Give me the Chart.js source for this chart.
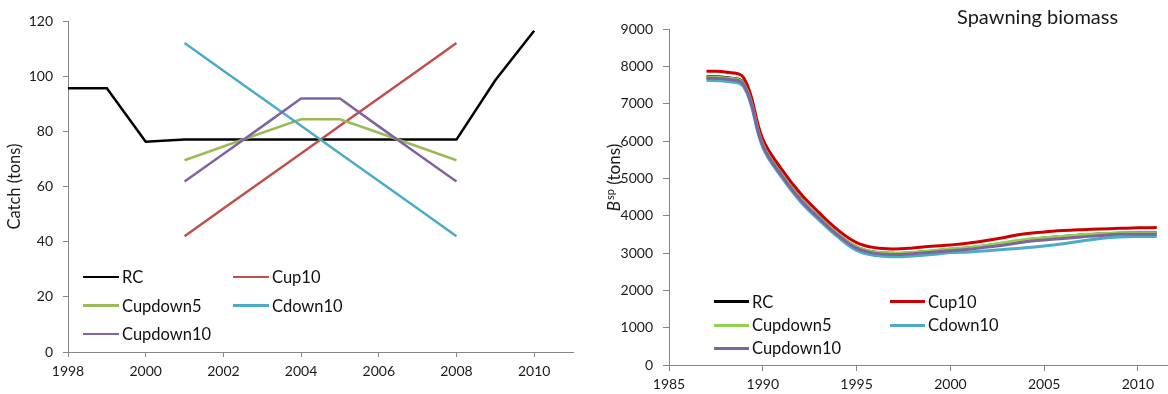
<!DOCTYPE html>
<html>
<head>
<meta charset="utf-8">
<script src="https://cdn.jsdelivr.net/npm/chart.js@4.4.1/dist/chart.umd.min.js"></script>
<style>
    body { margin: 0; background: #fff; font-family: Lato, "Open Sans", sans-serif; }
    #wrap { position: relative; width: 1168px; height: 394px; overflow: hidden; background: #fff; }
    .panel { position: absolute; top: 0; height: 394px; }
    .legend-item { position: absolute; display: flex; align-items: center; height: 20px;
                   font-size: 16.5px; color: #111; white-space: nowrap; }
    .legend-item .swatch { display: inline-block; margin-right: 3px; }
</style>
</head>
<body>
<div id="wrap">
    <div class="panel" id="panel-catch" style="left:0;width:590px">
        <canvas id="catchChart" width="590" height="394"></canvas>
    </div>
    <div class="panel" id="panel-biomass" style="left:590px;width:578px">
        <canvas id="biomassChart" width="578" height="394"></canvas>
    </div>
</div>
<script>
// Scenario names, in legend order
const seriesNames = ['RC', 'Cup10', 'Cupdown5', 'Cdown10', 'Cupdown10'];

// Catch (tons) per year for each scenario
const catchYears = [1998, 1999, 2000, 2001, 2002, 2003, 2004, 2005, 2006, 2007, 2008, 2009, 2010];
const catchRC        = [95.6, 95.6, 76.2, 77, 77, 77, 77, 77, 77, 77, 77, 98.5, 116.5];
const catchCup10     = [null, null, null, 42, 52, 62, 72, 82, 92, 102, 112, null, null];
const catchCupdown5  = [null, null, null, 69.5, 74.5, 79.5, 84.4, 84.4, 79.5, 74.5, 69.5, null, null];
const catchCdown10   = [null, null, null, 112, 102, 92, 82, 72, 62, 52, 42, null, null];
const catchCupdown10 = [null, null, null, 61.8, 71.8, 81.8, 91.9, 91.9, 81.8, 71.8, 61.8, null, null];

// Spawning biomass (tons) per year for each scenario
const bioYears = [1987, 1988, 1989, 1990, 1991, 1992, 1993, 1994, 1995, 1996, 1997, 1998, 1999,
                  2000, 2001, 2002, 2003, 2004, 2005, 2006, 2007, 2008, 2009, 2010, 2011];
const bioRC        = [7720, 7700, 7540, 5920, 5120, 4470, 3960, 3510, 3160, 3020, 2990, 3010, 3050,
                      3100, 3140, 3200, 3270, 3350, 3400, 3440, 3480, 3510, 3530, 3540, 3540];
const bioCup10     = [7870, 7850, 7680, 6050, 5250, 4600, 4080, 3620, 3280, 3140, 3110, 3135, 3180,
                      3215, 3265, 3340, 3430, 3515, 3565, 3600, 3625, 3645, 3660, 3675, 3680];
const bioCupdown5  = [7710, 7690, 7530, 5910, 5110, 4460, 3960, 3510, 3165, 3025, 2995, 3020, 3060,
                      3110, 3150, 3210, 3290, 3365, 3410, 3450, 3490, 3515, 3535, 3540, 3540];
const bioCdown10   = [7620, 7600, 7440, 5830, 5030, 4380, 3880, 3430, 3070, 2930, 2900, 2920, 2960,
                      3010, 3030, 3060, 3100, 3140, 3190, 3250, 3320, 3390, 3430, 3440, 3440];
const bioCupdown10 = [7680, 7660, 7500, 5880, 5080, 4430, 3930, 3480, 3130, 2990, 2960, 2980, 3020,
                      3060, 3100, 3160, 3220, 3300, 3350, 3390, 3430, 3470, 3500, 3505, 3505];

const catchColors = ['#000000', '#C0504D', '#9BBB59', '#4BACC6', '#8064A2'];
const bioColors   = ['#000000', '#CC0000', '#92D050', '#4BACC6', '#8064A2'];

const AXIS_COLOR = '#868686';
const TEXT_COLOR = '#1a1a1a';
const FONT = 'Lato';

function toPoints(years, values) {
    return years.map((yr, i) => ({ x: yr, y: values[i] })).filter(p => p.y !== null);
}

function buildDatasets(years, seriesList, colors, width, tension) {
    return seriesList.map((values, i) => ({
        label: seriesNames[i],
        data: toPoints(years, values),
        borderColor: colors[i],
        backgroundColor: colors[i],
        borderWidth: width,
        pointRadius: 0,
        tension: tension,
        fill: false,
        // later scenarios drawn on top
        order: seriesList.length - i
    }));
}

function axis(min, max, step, opts) {
    return {
        type: 'linear',
        min: min,
        max: max,
        border: { display: true, color: AXIS_COLOR, width: 1 },
        grid: { drawOnChartArea: false, drawTicks: true, tickLength: opts.tickLength, color: AXIS_COLOR },
        ticks: {
            stepSize: step,
            includeBounds: false,
            padding: opts.padding,
            color: TEXT_COLOR,
            font: { family: FONT, size: 14 },
            maxRotation: 0,
            autoSkip: false,
            callback: (value) => String(value)
        },
        title: opts.title || { display: false },
        afterFit: opts.afterFit
    };
}

// Legend laid out as a two-column grid over the plot
function buildLegend(panel, colors, width, origin) {
    seriesNames.forEach((name, i) => {
        const col = i % 2, row = Math.floor(i / 2);
        const item = document.createElement('div');
        item.className = 'legend-item';
        item.style.left = (origin.x + col * origin.colGap) + 'px';
        item.style.top = (origin.y + row * origin.rowGap - 10) + 'px';
        const sw = document.createElement('span');
        sw.className = 'swatch';
        sw.style.width = origin.swatch + 'px';
        sw.style.height = width + 'px';
        sw.style.background = colors[i];
        item.appendChild(sw);
        item.appendChild(document.createTextNode(name));
        panel.appendChild(item);
    });
}

// Catch chart
new Chart(document.getElementById('catchChart'), {
    type: 'line',
    data: {
        datasets: buildDatasets(catchYears,
            [catchRC, catchCup10, catchCupdown5, catchCdown10, catchCupdown10], catchColors, 2.5, 0)
    },
    options: {
        responsive: false,
        animation: false,
        layout: { padding: { top: 21, right: 17, left: 0, bottom: 0 } },
        plugins: { legend: { display: false }, tooltip: { enabled: false } },
        scales: {
            x: axis(1998, 2011, 2, {
                tickLength: 5, padding: 6,
                afterFit: (s) => { s.height = 42; }
            }),
            y: axis(0, 120, 20, {
                tickLength: 5, padding: 10,
                title: { display: true, text: 'Catch (tons)', color: TEXT_COLOR,
                         font: { family: FONT, size: 16.5 }, padding: { top: 5, bottom: 0 } },
                afterFit: (s) => { s.width = 68; }
            })
        }
    }
});
buildLegend(document.getElementById('panel-catch'), catchColors, 2.5,
    { x: 83, y: 277, colGap: 150, rowGap: 28.5, swatch: 36 });

// Title and the B^sp axis label need mixed styling, so draw them by hand
const biomassTitles = {
    id: 'biomassTitles',
    afterDraw(chart) {
        const ctx = chart.ctx;
        ctx.save();
        ctx.fillStyle = TEXT_COLOR;
        ctx.textBaseline = 'middle';
        ctx.textAlign = 'left';
        ctx.font = '20px ' + FONT;
        ctx.fillText('Spawning biomass', 367, 18);

        ctx.translate(25, 178);
        ctx.rotate(-Math.PI / 2);
        const fB = 'italic 17px ' + FONT, fSup = '11px ' + FONT, fRest = '17px ' + FONT;
        ctx.font = fB;    const wB = ctx.measureText('B').width;
        ctx.font = fSup;  const wS = ctx.measureText('sp').width;
        ctx.font = fRest; const wR = ctx.measureText(' (tons)').width;
        let x = -(wB + wS + wR) / 2;
        ctx.font = fB;    ctx.fillText('B', x, 0); x += wB + 1;
        ctx.font = fSup;  ctx.fillText('sp', x, -5); x += wS;
        ctx.font = fRest; ctx.fillText(' (tons)', x, 0);
        ctx.restore();
    }
};

// Spawning biomass chart
new Chart(document.getElementById('biomassChart'), {
    type: 'line',
    data: {
        datasets: buildDatasets(bioYears,
            [bioRC, bioCup10, bioCupdown5, bioCdown10, bioCupdown10], bioColors, 3, 0.4)
    },
    options: {
        responsive: false,
        animation: false,
        layout: { padding: { top: 29, right: 0, left: 0, bottom: 0 } },
        plugins: { legend: { display: false }, tooltip: { enabled: false } },
        scales: {
            x: axis(1985, 2011.6, 5, {
                tickLength: 6, padding: 5,
                afterFit: (s) => { s.height = 29; }
            }),
            y: axis(0, 9000, 1000, {
                tickLength: 6, padding: 10,
                afterFit: (s) => { s.width = 79; }
            })
        }
    },
    plugins: [biomassTitles]
});
buildLegend(document.getElementById('panel-biomass'), bioColors, 3,
    { x: 124, y: 301.7, colGap: 176, rowGap: 23.3, swatch: 35 });
</script>
</body>
</html>
